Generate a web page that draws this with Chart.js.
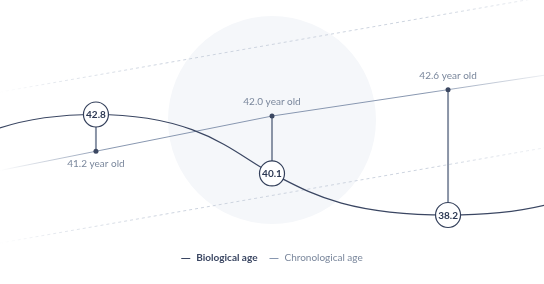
<!DOCTYPE html>
<html><head><meta charset="utf-8">
<script src="https://cdn.jsdelivr.net/npm/chart.js@4"></script>
<style>html,body{margin:0;padding:0;background:#fff}canvas{display:block}</style>
</head><body>
<canvas id="c" width="544" height="284" style="width:544px;height:284px"></canvas>
<script>
const checkups = ['Check-up 1', 'Check-up 2', 'Check-up 3'];
const biologicalAge = [42.8, 40.1, 38.2];
const chronologicalAge = [41.2, 42.0, 42.6];
const biologicalAgeBeyond = [40.26, 40.03]; // curve continuing past left / right edge
const seriesNames = ['Biological age', 'Chronological age'];
const ageUnit = 'year old';

const n = checkups.length;
const bioPoints = [{x: -1, y: biologicalAgeBeyond[0]}]
  .concat(biologicalAge.map((v, i) => ({x: i, y: v})))
  .concat([{x: n, y: biologicalAgeBeyond[1]}]);
const chronoPoints = chronologicalAge.map((v, i) => ({x: i, y: v}));

const FONT = 'Lato, "Open Sans", sans-serif';
const BIO_COLOR = '#3a4662';
const CHRONO_RGB = '136,151,176';
const LABEL_COLOR = '#7a879c';

function fadeGrad(ctx, a, rgb, stops) {
  const g = ctx.createLinearGradient(a.left, 0, a.right, 0);
  stops.forEach(([p, o]) => g.addColorStop(p, `rgba(${rgb},${o})`));
  return g;
}
const chronoStops = [[0, 0], [0.2, 1], [0.78, 1], [1, 0.15]];

// smooth S-shaped wave: flat tangents at turning points, steeper through the middle
function waveControlPoints(pts) {
  for (let i = 0; i < pts.length; i++) {
    const p = pts[i], prev = pts[i - 1], next = pts[i + 1];
    const sPrev = prev ? (p.y - prev.y) / (p.x - prev.x) : null;
    const sNext = next ? (next.y - p.y) / (next.x - p.x) : null;
    let slope, hl;
    if (sPrev !== null && sNext !== null && sPrev * sNext <= 0) { slope = 0; hl = 0.6; }
    else {
      const s = sPrev === null ? sNext : sNext === null ? sPrev : (sPrev + sNext) / 2;
      slope = 1.75 * s; hl = 0.2;
    }
    if (prev) { const dx = (p.x - prev.x) * hl; p.cp1x = p.x - dx; p.cp1y = p.y - slope * dx; }
    if (next) { const dx = (next.x - p.x) * hl; p.cp2x = p.x + dx; p.cp2y = p.y + slope * dx; }
  }
}

const decor = {
  id: 'decor',
  beforeDatasetDraw(chart, args) {
    if (args.index !== 0) return;
    const line = args.meta.dataset;
    line.updateControlPoints(chart.chartArea);
    waveControlPoints(args.meta.data);
    line._path = undefined;
  },
  beforeDatasetsDraw(chart) {
    const {ctx, chartArea: a, scales} = chart;
    const x = scales.x, yc = scales.yChrono, yb = scales.yBio;
    ctx.save();
    // background disc
    ctx.fillStyle = '#f5f7fa';
    ctx.beginPath();
    ctx.arc(x.getPixelForValue((n - 1) / 2), (a.top + a.bottom) / 2, 104, 0, Math.PI * 2);
    ctx.fill();
    // trend geometry
    const xs = chronologicalAge.map((v, i) => x.getPixelForValue(i));
    const ys = chronologicalAge.map(v => yc.getPixelForValue(v));
    const m = (ys[n - 1] - ys[0]) / (xs[n - 1] - xs[0]);
    const lineY = (px, off) => ys[0] + m * (px - xs[0]) + off;
    // dashed guides
    ctx.setLineDash([3, 3]);
    ctx.lineWidth = 1;
    ctx.strokeStyle = fadeGrad(ctx, a, '205,212,223', [[0, 0], [0.1, 0.5], [0.3, 1], [0.8, 1], [1, 0.3]]);
    [-76, 75].forEach(off => {
      ctx.beginPath();
      ctx.moveTo(a.left, lineY(a.left, off));
      ctx.lineTo(a.right, lineY(a.right, off));
      ctx.stroke();
    });
    ctx.setLineDash([]);
    // chronological line extensions
    ctx.strokeStyle = fadeGrad(ctx, a, CHRONO_RGB, chronoStops);
    ctx.lineWidth = 1;
    const m0 = (ys[1] - ys[0]) / (xs[1] - xs[0]);
    const m1 = (ys[n - 1] - ys[n - 2]) / (xs[n - 1] - xs[n - 2]);
    ctx.beginPath();
    ctx.moveTo(a.left, ys[0] + m0 * (a.left - xs[0]));
    ctx.lineTo(xs[0], ys[0]);
    ctx.moveTo(xs[n - 1], ys[n - 1]);
    ctx.lineTo(a.right, ys[n - 1] + m1 * (a.right - xs[n - 1]));
    ctx.stroke();
    // connectors
    ctx.strokeStyle = '#8a94a6';
    ctx.lineWidth = 2;
    biologicalAge.forEach((v, i) => {
      ctx.beginPath();
      ctx.moveTo(xs[i], yb.getPixelForValue(v));
      ctx.lineTo(xs[i], ys[i]);
      ctx.stroke();
    });
    ctx.restore();
  },
  afterDatasetsDraw(chart) {
    const {ctx, scales} = chart;
    const x = scales.x, yc = scales.yChrono, yb = scales.yBio;
    ctx.save();
    ctx.textAlign = 'center';
    ctx.textBaseline = 'middle';
    biologicalAge.forEach((v, i) => {
      const px = x.getPixelForValue(i);
      const pb = yb.getPixelForValue(v);
      const pc = yc.getPixelForValue(chronologicalAge[i]);
      ctx.font = 'bold 10px ' + FONT;
      ctx.fillStyle = '#2c3853';
      ctx.fillText(v.toFixed(1), px, pb + 0.5);
      ctx.font = '10px ' + FONT;
      ctx.fillStyle = LABEL_COLOR;
      const ly = pb < pc ? pc + 13 : pc - 14;
      ctx.fillText(chronologicalAge[i].toFixed(1) + ' ' + ageUnit, px, ly);
    });
    // legend
    const items = [
      {text: seriesNames[0], font: 'bold 10px ' + FONT, color: BIO_COLOR, line: BIO_COLOR},
      {text: seriesNames[1], font: '10px ' + FONT, color: LABEL_COLOR, line: `rgb(${CHRONO_RGB})`}
    ];
    const dash = 9, gap = 6, sep = 12;
    let total = 0;
    items.forEach((it, k) => {
      ctx.font = it.font;
      it.w = ctx.measureText(it.text).width;
      total += dash + gap + it.w + (k ? sep : 0);
    });
    let cx = chart.width / 2 - total / 2;
    const ly = 258;
    ctx.textAlign = 'left';
    items.forEach((it, k) => {
      if (k) cx += sep;
      ctx.strokeStyle = it.line;
      ctx.lineWidth = 1;
      ctx.beginPath();
      ctx.moveTo(cx, ly + 0.5);
      ctx.lineTo(cx + dash, ly + 0.5);
      ctx.stroke();
      cx += dash + gap;
      ctx.font = it.font;
      ctx.fillStyle = it.color;
      ctx.fillText(it.text, cx, ly);
      cx += it.w;
    });
    ctx.restore();
  }
};

new Chart(document.getElementById('c'), {
  type: 'line',
  data: {
    datasets: [
      {
        label: seriesNames[0],
        data: bioPoints,
        yAxisID: 'yBio',
        borderColor: BIO_COLOR,
        borderWidth: 1.2,
        tension: 0.4,
        pointRadius: c => (c.raw && (c.raw.x < 0 || c.raw.x > n - 1)) ? 0 : 12.5,
        pointBackgroundColor: '#ffffff',
        pointBorderColor: '#34405b',
        pointBorderWidth: 1.2,
        pointHoverRadius: 12.5
      },
      {
        label: seriesNames[1],
        data: chronoPoints,
        yAxisID: 'yChrono',
        borderColor: c => {
          const a = c.chart.chartArea;
          return a ? fadeGrad(c.chart.ctx, a, CHRONO_RGB, chronoStops) : `rgb(${CHRONO_RGB})`;
        },
        borderWidth: 1,
        tension: 0,
        pointRadius: 2.5,
        pointBackgroundColor: '#3b4761',
        pointBorderWidth: 0,
        pointHoverRadius: 2.5
      }
    ]
  },
  options: {
    responsive: false,
    animation: false,
    devicePixelRatio: 1,
    events: [],
    layout: {autoPadding: false, padding: {top: 0, left: 0, right: 0, bottom: 44}},
    plugins: {legend: {display: false}, tooltip: {enabled: false}},
    scales: {
      x: {type: 'linear', display: false, min: -0.545, max: (n - 1) + 0.545},
      yBio: {type: 'linear', display: false, min: 37.055, max: 48.04},
      yChrono: {type: 'linear', display: false, min: 39.183, max: 44.638}
    }
  },
  plugins: [decor]
});
</script>
</body></html>
